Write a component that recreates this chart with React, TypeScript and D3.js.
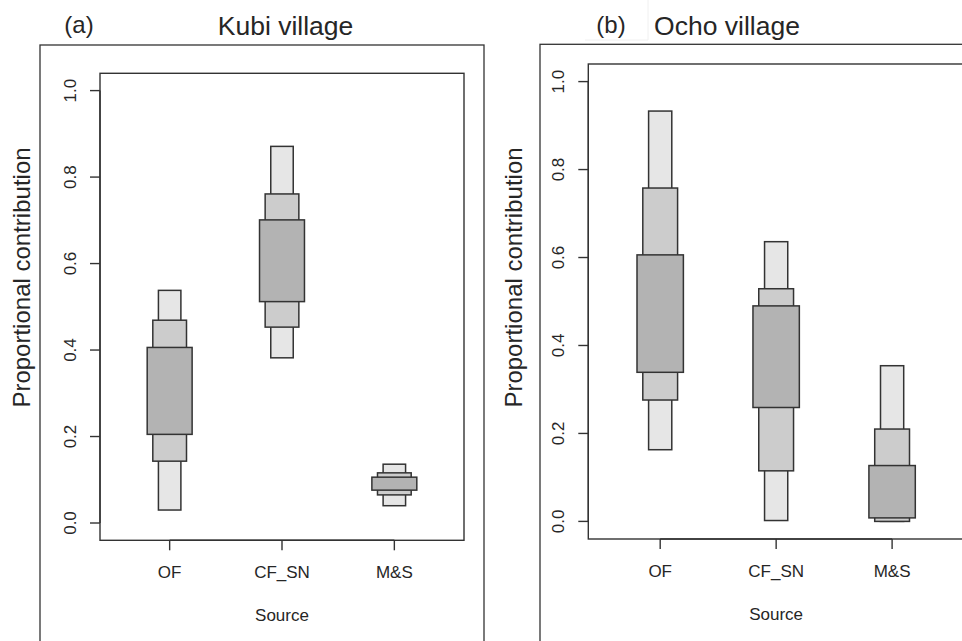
import React from "react";
import * as d3 from "d3";

// Sources on the x axis and y tick values
const sources = ["OF", "CF_SN", "M&S"];
const yTickValues = [0, 0.2, 0.4, 0.6, 0.8, 1.0];

// Kubi village: highest-density intervals [low, high] for each source
const kubi95 = [[0.030, 0.538], [0.382, 0.871], [0.040, 0.136]];
const kubi75 = [[0.143, 0.469], [0.453, 0.761], [0.065, 0.116]];
const kubi50 = [[0.205, 0.406], [0.512, 0.701], [0.076, 0.106]];

// Ocho village: highest-density intervals [low, high] for each source
const ocho95 = [[0.163, 0.933], [0.002, 0.636], [0.000, 0.354]];
const ocho75 = [[0.276, 0.758], [0.115, 0.529], [0.000, 0.210]];
const ocho50 = [[0.339, 0.606], [0.259, 0.490], [0.008, 0.127]];

// Band styling: widest interval is narrowest and lightest
const bandStyles = [
  { halfWidth: 0.1, fill: "#e6e6e6" },
  { halfWidth: 0.15, fill: "#cccccc" },
  { halfWidth: 0.2, fill: "#b3b3b3" },
];

const FONT = "'Liberation Sans', Arial, Helvetica, sans-serif";
const INK = "#262626";
const LINE = "#333333";

type Interval = number[];

interface PanelProps {
  tag: string;
  title: string;
  intervals: Interval[][]; // [95, 75, 50]
  frame: { x: number; y: number; right: number };
  plot: { left: number; right: number; top: number; bottom: number };
  tagX: number;
  titleX: number;
  yLabelX: number;
}

function Panel({ tag, title, intervals, frame, plot, tagX, titleX, yLabelX }: PanelProps) {
  const x = d3.scaleLinear().domain([0.38, 3.62]).range([plot.left, plot.right]);
  const y = d3.scaleLinear().domain([-0.04, 1.04]).range([plot.bottom, plot.top]);
  const tickLen = 10;

  return (
    <g>
      {/* figure region frame */}
      <rect x={frame.x} y={frame.y} width={frame.right - frame.x} height={800}
        fill="none" stroke={LINE} strokeWidth={1.3} />

      <text x={tagX} y={33} textAnchor="middle" fontFamily={FONT} fontSize={24} fill={INK}>{tag}</text>
      <text x={titleX} y={35} textAnchor="middle" fontFamily={FONT} fontSize={26.5} fill={INK}>{title}</text>

      {/* interval bands, widest interval drawn first */}
      {intervals.map((level, li) =>
        level.map((iv, si) => {
          const hw = bandStyles[li].halfWidth;
          const x0 = x(si + 1 - hw);
          const x1 = x(si + 1 + hw);
          return (
            <rect key={`${li}-${si}`} x={x0} y={y(iv[1])} width={x1 - x0} height={y(iv[0]) - y(iv[1])}
              fill={bandStyles[li].fill} stroke={LINE} strokeWidth={1.5} />
          );
        })
      )}

      {/* plot box */}
      <rect x={plot.left} y={plot.top} width={plot.right - plot.left} height={plot.bottom - plot.top}
        fill="none" stroke={LINE} strokeWidth={1.4} />

      {/* y axis */}
      <line x1={plot.left} x2={plot.left} y1={y(0)} y2={y(1)} stroke={LINE} strokeWidth={1.4} />
      {yTickValues.map((v) => (
        <g key={v}>
          <line x1={plot.left - tickLen} x2={plot.left} y1={y(v)} y2={y(v)} stroke={LINE} strokeWidth={1.4} />
          <text transform={`translate(${plot.left - 24.5},${y(v)}) rotate(-90)`} textAnchor="middle"
            fontFamily={FONT} fontSize={17} fill={INK}>{v.toFixed(1)}</text>
        </g>
      ))}

      {/* x axis */}
      <line x1={x(1)} x2={x(3)} y1={plot.bottom} y2={plot.bottom} stroke={LINE} strokeWidth={1.4} />
      {sources.map((s, i) => (
        <g key={s}>
          <line x1={x(i + 1)} x2={x(i + 1)} y1={plot.bottom} y2={plot.bottom + tickLen} stroke={LINE} strokeWidth={1.4} />
          <text x={x(i + 1)} y={plot.bottom + 38} textAnchor="middle" fontFamily={FONT} fontSize={17} fill={INK}>{s}</text>
        </g>
      ))}

      <text x={(x(1) + x(3)) / 2} y={plot.bottom + 81} textAnchor="middle" fontFamily={FONT} fontSize={17} fill={INK}>Source</text>
      <text transform={`translate(${yLabelX},277.5) rotate(-90)`} textAnchor="middle"
        fontFamily={FONT} fontSize={24} fill={INK}>Proportional contribution</text>
    </g>
  );
}

export default function App() {
  return (
    <svg width={962} height={641} viewBox="0 0 962 641"
      style={{ position: "absolute", left: 0, top: 0, background: "#ffffff" }}>
      <rect x={0} y={0} width={962} height={641} fill="#ffffff" />
      <Panel
        tag="(a)"
        title="Kubi village"
        intervals={[kubi95, kubi75, kubi50]}
        frame={{ x: 40, y: 45, right: 484 }}
        plot={{ left: 100, right: 464, top: 73.3, bottom: 540.3 }}
        tagX={79}
        titleX={285.5}
        yLabelX={30}
      />
      <Panel
        tag="(b)"
        title="Ocho village"
        intervals={[ocho95, ocho75, ocho50]}
        frame={{ x: 540, y: 44.3, right: 1010 }}
        plot={{ left: 588.3, right: 964, top: 64, bottom: 539 }}
        tagX={611}
        titleX={727}
        yLabelX={522}
      />
      {/* faint backing box behind the (b) tag */}
      <path d="M585,40 H648 V0" fill="none" stroke="#f0f0f0" strokeWidth={1} />
    </svg>
  );
}
